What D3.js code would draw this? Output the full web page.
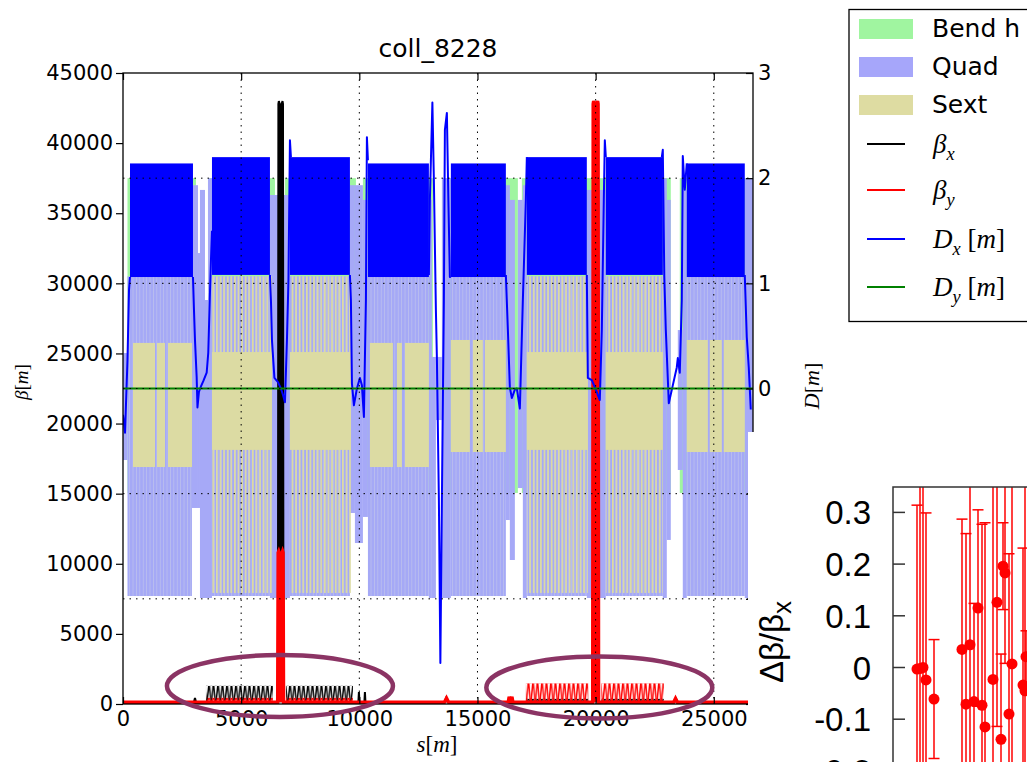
<!DOCTYPE html>
<html>
<head>
<meta charset="utf-8">
<script src="https://cdn.jsdelivr.net/npm/d3@7"></script>
<style>
body { margin: 0; background: #fff; }
svg { display: block; }
</style>
</head>
<body>
<div id="chart"></div>
<script>
// ---------------- data (s in metres) ----------------
let title = "coll_8228";
let sMax = 26659;
let xTicks = [0, 5000, 10000, 15000, 20000, 25000];
let betaTicks = [0, 5000, 10000, 15000, 20000, 25000, 30000, 35000, 40000, 45000];
let dTicks = [-3, -2, -1, 0, 1, 2, 3];
let dGrid = [-2, -1, 0, 1, 2];

// bending magnets, [start, end] and the beta-axis band they are drawn on
let bendStart = [190, 3596, 6853, 10152, 13621, 16878, 20177, 23561];
let bendEnd   = [3088, 6430, 9856, 13113, 16709, 19839, 23180, 26607];
let bendLevel = [15050, 37500];

// arc quadrupoles (too dense to separate, drawn as one block per arc)
let arcQuadStart = [190, 3765, 7064, 10364, 13874, 17089, 20431, 23857];
let arcQuadEnd   = [2919, 6218, 9602, 12944, 16201, 19627, 22842, 26311];
let arcQuadLevel = [7700, 30500];

// straight-section quadrupoles: [s0, s1, top, bottom]
let insQuads = [
  [0, 190, 25030, 17400],
  [2919, 3173, 37000, 13980], [3173, 3257, 32160, 13980], [3257, 3469, 36660, 7560],
  [3469, 3596, 28810, 7560], [3596, 3765, 37500, 7560],
  [6218, 7064, 36300, 7560],
  [9602, 9814, 37000, 13620], [9814, 10152, 37000, 11480], [10152, 10364, 35950, 13340],
  [12944, 13071, 35950, 7560], [13071, 13240, 24750, 7560], [13240, 13494, 24750, 20250],
  [13494, 13874, 37500, 7560],
  [16201, 16370, 37000, 13120], [16370, 16582, 35950, 10270], [16709, 16920, 35950, 15400],
  [16920, 17089, 37000, 7560],
  [19627, 20431, 36660, 7560],
  [22842, 23011, 37500, 7560], [23011, 23180, 35950, 11700], [23477, 23688, 26670, 16690],
  [23688, 23857, 36660, 7560],
  [26311, 26659, 37500, 7560]
];

// sextupoles: solid blocks [s0, s1, top, bottom] and striped arc blocks [s0, s1]
let sextSolid = [
  [423, 1354, 25750, 16900], [1438, 1777, 25750, 16900], [1904, 2919, 25750, 16900],
  [3765, 6303, 25100, 18120], [7064, 9644, 25100, 18120],
  [10448, 11421, 25750, 16900], [11590, 11802, 25750, 16900], [11929, 12944, 25750, 16900],
  [13874, 14678, 25960, 17970], [14805, 15228, 25960, 17970], [15313, 16201, 25960, 17970],
  [17089, 19670, 25100, 18120], [20431, 22842, 25100, 18120],
  [23857, 24746, 25960, 17970], [24830, 25338, 25960, 17970], [25422, 26311, 25960, 17970]
];
let sextStriped = [[3765, 6303], [7064, 9644], [17089, 19670], [20431, 22842]];
let sextStripedLevel = [7920, 30500];

// horizontal dispersion: arc envelopes and the straight sections in between
let dxArcStart = [296, 3765, 7064, 10364, 13874, 17089, 20431, 23857];
let dxArcEnd   = [2961, 6218, 9602, 12944, 16201, 19627, 22842, 26311];
let dxArcLow   = [1.06, 1.08, 1.08, 1.06, 1.06, 1.08, 1.08, 1.06];
let dxArcHigh  = [2.14, 2.20, 2.20, 2.14, 2.14, 2.20, 2.20, 2.14];
let dxStraights = [
  [[0, -0.25], [85, -0.42], [190, 0.27], [255, 0.94], [296, 1.06]],
  [[2961, 1.06], [3003, 0.75], [3046, 0.46], [3117, 0.11], [3151, -0.18], [3215, -0.03], [3299, 0.02],
   [3397, 0.07], [3541, 0.15], [3608, 0.34], [3680, 0.91], [3722, 1.22], [3765, 1.5]],
  [[6218, 1.08], [6260, 0.84], [6303, 0.46], [6408, 0.10], [6557, 0.06], [6683, 0.0], [6768, -0.06],
   [6853, -0.13], [6937, 0.46], [7001, 1.03], [7064, 2.36], [7106, 2.20]],
  [[9602, 1.08], [9644, 0.84], [9687, 0.05], [9771, -0.16], [9898, 0.0], [10025, 0.10], [10110, 0.03],
   [10194, -0.27], [10279, 0.84], [10321, 2.39], [10364, 2.17]],
  [[12944, 1.08], [12986, 1.79], [13092, 2.72], [13155, 1.98], [13240, 0.75], [13282, 0.30], [13367, -1.06],
   [13430, -2.61], [13494, -1.06], [13578, 0.84], [13621, 2.46], [13705, 2.62], [13769, 1.79],
   [13832, 1.06], [13874, 1.06]],
  [[16201, 1.08], [16286, 0.56], [16370, 0.01], [16455, -0.09], [16582, -0.01], [16666, 0.0], [16793, -0.19],
   [16920, 0.84], [17047, 1.79], [17089, 2.20]],
  [[19627, 1.08], [19670, 0.10], [19839, 0.08], [20008, -0.01], [20177, -0.11], [20262, 0.56], [20346, 1.79],
   [20389, 2.36], [20431, 2.20]],
  [[22800, 2.20], [22842, 2.27], [22905, 1.07], [22969, 0.56], [23096, -0.14], [23265, 0.03], [23434, 0.20],
   [23477, 0.29], [23561, 0.15], [23646, 0.84], [23688, 2.21], [23773, 1.89], [23857, 2.14]],
  [[26311, 1.08], [26395, 0.49], [26480, 0.20], [26565, -0.20]]
];
let dyLine = [[0, 0], [26659, 0]];

// beta functions [s, beta]
let betaX = [
  [0, 120], [3000, 120], [3046, 430], [3090, 120],
  [6555, 120], [6575, 42800], [6595, 43000], [6665, 42600], [6670, 900], [6674, 900], [6679, 42600],
  [6750, 43000], [6770, 42800], [6790, 120],
  [9960, 120], [9983, 860], [10006, 120], [10215, 120], [10237, 860], [10260, 120],
  [13600, 120], [13680, 450], [13760, 120],
  [19880, 120], [19900, 10800], [19920, 10900], [19995, 10500], [19998, 900], [20002, 900], [20005, 10500],
  [20080, 10900], [20100, 10800], [20120, 120],
  [23300, 120], [23400, 380], [23480, 120],
  [26659, 120]
];
let betaY = [
  [0, 120],
  [6545, 120], [6565, 10800], [6590, 10900], [6665, 10500], [6670, 900], [6674, 900], [6679, 10500],
  [6755, 10900], [6775, 10800], [6795, 120],
  [13600, 120], [13690, 420], [13780, 120],
  [16300, 120], [16340, 520], [16400, 200], [16460, 520], [16500, 120],
  [19875, 120], [19895, 42800], [19915, 43000], [19995, 42600], [19998, 900], [20002, 900], [20005, 42600],
  [20085, 43000], [20105, 42800], [20125, 120],
  [23300, 120], [23380, 400], [23460, 120],
  [26659, 120]
];
// arc beating regions: [s0, s1, peak beta]
let betaXBeat = [[3511, 6345, 1300], [6895, 9729, 1300], [17047, 19691, 380], [20241, 22884, 380]];
let betaYBeat = [[3511, 6345, 450], [6895, 9729, 450], [17047, 19691, 1480], [20241, 22884, 1480]];

// hand-drawn ellipses on the slide, centre [s, beta]
let ellipses = [[6641, 1284], [20156, 1177]];

// inset (measured beating), position in arbitrary units
let insetPos = [24, 27, 30, 33, 41, 69, 73, 77, 81, 85, 89, 92, 100, 104, 108, 110, 112, 116, 119, 130, 132, 133];
let insetVal = [-0.003, -0.002, 0.0, -0.024, -0.061, 0.035, -0.071, 0.044, -0.066, 0.115, -0.073, -0.115,
                -0.023, 0.126, -0.139, 0.196, 0.183, -0.090, 0.007, -0.034, -0.045, 0.021];
let insetErr = [0.317, 0.6, 0.6, 0.323, 0.115, 0.252, 0.33, 0.6, 0.19, 0.19, 0.35, 0.395,
                0.6, 0.24, 0.165, 0.084, 0.175, 0.31, 0.6, 0.265, 0.6, 0.05];
let insetTicks = [-0.2, -0.1, 0, 0.1, 0.2, 0.3];
let insetTickLabels = ["-0.2", "-0.1", "0", "0.1", "0.2", "0.3"];

// ---------------- layout ----------------
let svgWidth = 1027, svgHeight = 762;
let plot = {left: 123, right: 753, top: 73, bottom: 704};

let svg = d3.select("#chart").append("svg")
  .attr("width", svgWidth)
  .attr("height", svgHeight);

let x = d3.scaleLinear().domain([0, sMax]).range([plot.left, plot.right]);
let yB = d3.scaleLinear().domain([0, 45000]).range([plot.bottom, plot.top]);
let yD = d3.scaleLinear().domain([-3, 3]).range([plot.bottom, plot.top]);

let defs = svg.append("defs");
defs.append("clipPath").attr("id", "plotClip")
  .append("rect")
  .attr("x", plot.left).attr("y", plot.top)
  .attr("width", plot.right - plot.left).attr("height", plot.bottom - plot.top);

// texture for the dense arc quadrupoles
let qTex = defs.append("pattern").attr("id", "quadTex")
  .attr("patternUnits", "userSpaceOnUse").attr("width", 3.4).attr("height", 20);
qTex.append("rect").attr("width", 3.4).attr("height", 20).attr("fill", "#a5a9f6");
qTex.append("rect").attr("width", 0.8).attr("height", 20).attr("fill", "#bcc0ee");

// texture for the striped sextupole arcs
let sTex = defs.append("pattern").attr("id", "sextTex")
  .attr("patternUnits", "userSpaceOnUse").attr("width", 3.6).attr("height", 20);
sTex.append("rect").attr("width", 1.7).attr("height", 20).attr("fill", "#dcdba3");

// comb texture for the beta beating in the arcs
function combPattern(id, color, top, bottom) {
  let h = bottom - top;
  let p = defs.append("pattern").attr("id", id)
    .attr("patternUnits", "userSpaceOnUse")
    .attr("x", 0).attr("y", top).attr("width", 4.5).attr("height", h);
  p.append("path")
    .attr("d", `M0,${h} L1.6,0.8 L2.4,0.8 L4,${h} L4.5,${h}`)
    .attr("fill", "none").attr("stroke", color).attr("stroke-width", 1.4);
}

let g = svg.append("g").attr("clip-path", "url(#plotClip)");

// bends
g.selectAll(".bend").data(d3.range(bendStart.length)).join("rect")
  .attr("x", i => x(bendStart[i]))
  .attr("width", i => x(bendEnd[i]) - x(bendStart[i]))
  .attr("y", yB(bendLevel[1]))
  .attr("height", yB(bendLevel[0]) - yB(bendLevel[1]))
  .attr("fill", "#a0f5a0");

// quads
g.selectAll(".aquad").data(d3.range(arcQuadStart.length)).join("rect")
  .attr("x", i => x(arcQuadStart[i]))
  .attr("width", i => x(arcQuadEnd[i]) - x(arcQuadStart[i]))
  .attr("y", yB(arcQuadLevel[1]))
  .attr("height", yB(arcQuadLevel[0]) - yB(arcQuadLevel[1]))
  .attr("fill", "url(#quadTex)");

g.selectAll(".iquad").data(insQuads).join("rect")
  .attr("x", d => x(d[0]))
  .attr("width", d => x(d[1]) - x(d[0]))
  .attr("y", d => yB(d[2]))
  .attr("height", d => yB(d[3]) - yB(d[2]))
  .attr("fill", "#a6a9f7");

// sextupoles
g.selectAll(".ssext").data(sextStriped).join("rect")
  .attr("x", d => x(d[0]))
  .attr("width", d => x(d[1]) - x(d[0]))
  .attr("y", yB(sextStripedLevel[1]))
  .attr("height", yB(sextStripedLevel[0]) - yB(sextStripedLevel[1]))
  .attr("fill", "url(#sextTex)");

g.selectAll(".sext").data(sextSolid).join("rect")
  .attr("x", d => x(d[0]))
  .attr("width", d => x(d[1]) - x(d[0]))
  .attr("y", d => yB(d[2]))
  .attr("height", d => yB(d[3]) - yB(d[2]))
  .attr("fill", "#dcdba3");

// beta functions (beta_x first, beta_y on top)
let betaLine = d3.line().x(d => x(d[0])).y(d => yB(d[1]));
let betaArea = d3.area().x(d => x(d[0])).y0(yB(120)).y1(d => yB(d[1]));

function drawBeat(data, color, key) {
  data.forEach((d, i) => {
    let top = yB(d[2]), bottom = yB(120);
    combPattern(`${key}${i}`, color, top, bottom);
    g.append("rect")
      .attr("x", x(d[0])).attr("width", x(d[1]) - x(d[0]))
      .attr("y", top).attr("height", bottom - top)
      .attr("fill", `url(#${key}${i})`);
  });
}

function drawBeta(data, color, width) {
  g.append("path").datum(data)
    .attr("d", betaArea)
    .attr("fill", color);
  g.append("path").datum(data)
    .attr("d", betaLine)
    .attr("fill", "none").attr("stroke", color).attr("stroke-width", width);
}

drawBeat(betaXBeat, "#000", "bxc");
drawBeta(betaX, "#000", 2);
drawBeat(betaYBeat, "#ff0000", "byc");
drawBeta(betaY, "#ff0000", 3.4);

// dispersion
g.selectAll(".dxarc").data(d3.range(dxArcStart.length)).join("rect")
  .attr("x", i => x(dxArcStart[i]))
  .attr("width", i => x(dxArcEnd[i]) - x(dxArcStart[i]))
  .attr("y", i => yD(dxArcHigh[i]))
  .attr("height", i => yD(dxArcLow[i]) - yD(dxArcHigh[i]))
  .attr("fill", "#0000ff");

let dLine = d3.line().x(d => x(d[0])).y(d => yD(d[1]));
g.selectAll(".dxs").data(dxStraights).join("path")
  .attr("d", dLine)
  .attr("fill", "none").attr("stroke", "#0000ff").attr("stroke-width", 2)
  .attr("stroke-linejoin", "round");

g.append("path").datum(dyLine)
  .attr("d", dLine)
  .attr("fill", "none").attr("stroke", "#008000").attr("stroke-width", 2);

// grid
g.selectAll(".vgrid").data(xTicks.slice(1)).join("line")
  .attr("x1", d => x(d)).attr("x2", d => x(d))
  .attr("y1", plot.top).attr("y2", plot.bottom)
  .attr("stroke", "#000").attr("stroke-width", 1).attr("stroke-dasharray", "1.5,5");
g.selectAll(".hgrid").data(dGrid).join("line")
  .attr("x1", plot.left).attr("x2", plot.right)
  .attr("y1", d => yD(d)).attr("y2", d => yD(d))
  .attr("stroke", "#000").attr("stroke-width", 1).attr("stroke-dasharray", "1.5,5");

// axes
let tickFont = "21px 'DejaVu Sans', sans-serif";

let leftAxis = svg.append("g")
  .attr("transform", `translate(${plot.left},0)`)
  .call(d3.axisLeft(yB).tickValues(betaTicks).tickSize(7).tickPadding(3).tickFormat(d3.format("d")));
let bottomAxis = svg.append("g")
  .attr("transform", `translate(0,${plot.bottom})`)
  .call(d3.axisBottom(x).tickValues(xTicks).tickSize(-7).tickPadding(7).tickFormat(d3.format("d")));
let topAxis = svg.append("g")
  .attr("transform", `translate(0,${plot.top})`)
  .call(d3.axisTop(x).tickValues(xTicks).tickSize(-7).tickFormat(""));
let rightAxis = svg.append("g")
  .attr("transform", `translate(${plot.right},0)`)
  .call(d3.axisRight(yD).tickValues(dTicks).tickSize(-7).tickPadding(5).tickFormat(d3.format("d")));

[leftAxis, bottomAxis, topAxis, rightAxis].forEach(a => {
  a.select(".domain").remove();
  a.selectAll("line").attr("stroke", "#000").attr("stroke-width", 1.2);
  a.selectAll("text").style("font", tickFont).attr("fill", "#000");
});

svg.append("rect")
  .attr("x", plot.left).attr("y", plot.top)
  .attr("width", plot.right - plot.left).attr("height", plot.bottom - plot.top)
  .attr("fill", "none").attr("stroke", "#000").attr("stroke-width", 1.3);

// title and axis labels
svg.append("text")
  .attr("x", (plot.left + plot.right) / 2).attr("y", 57)
  .attr("text-anchor", "middle")
  .style("font", "25px 'DejaVu Sans', sans-serif")
  .text(title);

function mathText(sel, parts, size) {
  parts.forEach(p => {
    sel.append("tspan")
      .attr("font-style", p.i ? "italic" : "normal")
      .attr("font-size", p.sub ? size * 0.68 : size)
      .attr("dy", p.dy || 0)
      .text(p.t);
  });
  return sel;
}
let serif = "'Liberation Serif', 'DejaVu Serif', serif";

mathText(svg.append("text")
  .attr("transform", "translate(28,382) rotate(-90)")
  .attr("text-anchor", "middle").attr("font-family", serif),
  [{t: "β", i: true}, {t: "["}, {t: "m", i: true}, {t: "]"}], 19);

mathText(svg.append("text")
  .attr("x", 437).attr("y", 752)
  .attr("text-anchor", "middle").attr("font-family", serif),
  [{t: "s", i: true}, {t: "["}, {t: "m", i: true}, {t: "]"}], 23);

mathText(svg.append("text")
  .attr("transform", "translate(819,386) rotate(-90)")
  .attr("text-anchor", "middle").attr("font-family", serif),
  [{t: "D", i: true}, {t: "["}, {t: "m", i: true}, {t: "]"}], 22);

// ellipses drawn on the slide
svg.selectAll(".ring").data(ellipses).join("ellipse")
  .attr("cx", d => x(d[0])).attr("cy", d => yB(d[1]))
  .attr("rx", 113).attr("ry", 31)
  .attr("fill", "none").attr("stroke", "#8b3464").attr("stroke-width", 4.5);

// legend
let legend = svg.append("g");
legend.append("rect")
  .attr("x", 849).attr("y", 9.5).attr("width", 220).attr("height", 312)
  .attr("fill", "#fff").attr("stroke", "#000").attr("stroke-width", 1.3);

let patchNames = ["Bend h", "Quad", "Sext"];
let patchColors = ["#a0f5a0", "#a6a6fa", "#dedca2"];
patchNames.forEach((name, i) => {
  legend.append("rect")
    .attr("x", 859).attr("y", 19 + i * 38).attr("width", 54).attr("height", 20)
    .attr("fill", patchColors[i]);
  legend.append("text")
    .attr("x", 932).attr("y", 37 + i * 38)
    .style("font", "25px 'DejaVu Sans', sans-serif")
    .text(name);
});

let lineEntries = [
  {color: "#000", y: 144, parts: [{t: "β", i: true}, {t: "x", i: true, sub: true, dy: 7}]},
  {color: "#ff0000", y: 190, parts: [{t: "β", i: true}, {t: "y", i: true, sub: true, dy: 7}]},
  {color: "#0000ff", y: 239, parts: [{t: "D", i: true}, {t: "x", i: true, sub: true, dy: 7}, {t: " [", dy: -7}, {t: "m", i: true}, {t: "]"}]},
  {color: "#008000", y: 287, parts: [{t: "D", i: true}, {t: "y", i: true, sub: true, dy: 7}, {t: " [", dy: -7}, {t: "m", i: true}, {t: "]"}]}
];
lineEntries.forEach(e => {
  legend.append("line")
    .attr("x1", 867).attr("x2", 905).attr("y1", e.y).attr("y2", e.y)
    .attr("stroke", e.color).attr("stroke-width", 2);
  mathText(legend.append("text")
    .attr("x", 933).attr("y", e.y + 9).attr("font-family", serif),
    e.parts, 27);
});

// ---------------- pasted inset ----------------
svg.append("rect")
  .attr("x", 748).attr("y", 432).attr("width", 279).attr("height", 330)
  .attr("fill", "#fff");

let ix = d3.scaleLinear().domain([0, 100]).range([893, 993]);
let iy = d3.scaleLinear().domain([0, 0.3]).range([667.5, 512.4]);

defs.append("clipPath").attr("id", "insetClip")
  .append("rect").attr("x", 893).attr("y", 487).attr("width", 200).attr("height", 400);

let inset = svg.append("g");
let ig = inset.append("g").attr("clip-path", "url(#insetClip)");

ig.selectAll(".eb").data(insetPos).join("line")
  .attr("x1", (d, i) => ix(d)).attr("x2", (d, i) => ix(d))
  .attr("y1", (d, i) => iy(insetVal[i] + insetErr[i]))
  .attr("y2", (d, i) => iy(insetVal[i] - insetErr[i]))
  .attr("stroke", "#ff0000").attr("stroke-width", 1.5);
[1, -1].forEach(sign => {
  ig.selectAll(null).data(insetPos).join("line")
    .attr("x1", d => ix(d) - 5.5).attr("x2", d => ix(d) + 5.5)
    .attr("y1", (d, i) => iy(insetVal[i] + sign * insetErr[i]))
    .attr("y2", (d, i) => iy(insetVal[i] + sign * insetErr[i]))
    .attr("stroke", "#ff0000").attr("stroke-width", 1.5);
});
ig.selectAll(".pt").data(insetPos).join("circle")
  .attr("cx", d => ix(d))
  .attr("cy", (d, i) => iy(insetVal[i]))
  .attr("r", 5.5)
  .attr("fill", "#ff0000");

inset.append("rect")
  .attr("x", 893).attr("y", 487).attr("width", 200).attr("height", 400)
  .attr("fill", "none").attr("stroke", "#333").attr("stroke-width", 1.5);

inset.selectAll(".itick").data(insetTicks).join("line")
  .attr("x1", 893).attr("x2", 905)
  .attr("y1", d => iy(d)).attr("y2", d => iy(d))
  .attr("stroke", "#333").attr("stroke-width", 1.5);

inset.selectAll(".ilab").data(insetTicks).join("text")
  .attr("x", 871).attr("y", d => iy(d) + 12)
  .attr("text-anchor", "end")
  .style("font", "33px 'Liberation Sans', Arial, sans-serif")
  .text((d, i) => insetTickLabels[i]);

let ylab = inset.append("text")
  .attr("transform", "translate(783,642) rotate(-90)")
  .attr("text-anchor", "middle")
  .style("font-family", "'Liberation Sans', Arial, sans-serif");
ylab.append("tspan").attr("font-size", 33).text("Δβ/β");
ylab.append("tspan").attr("font-size", 26).attr("dy", 8).text("x");
</script>
</body>
</html>
